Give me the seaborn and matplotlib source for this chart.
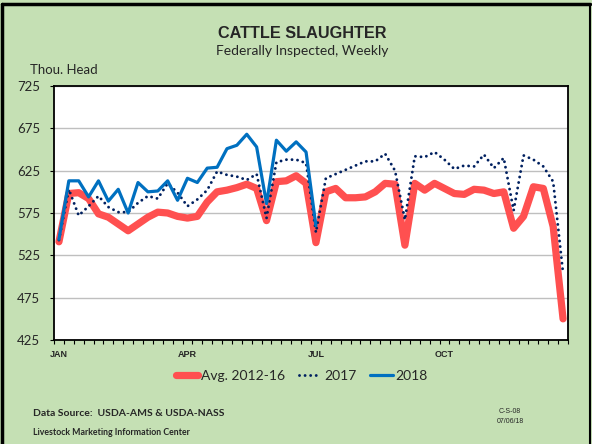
import matplotlib
matplotlib.use("Agg")
import matplotlib.pyplot as plt
import matplotlib.lines as mlines
import numpy as np
import pandas as pd
import seaborn as sns

# weekly federally inspected cattle slaughter, thou. head
weeks = list(range(1, 53))
avg_2012_16 = [541, 598, 599, 592, 574, 570, 562, 554, 562, 570,
               576, 575, 571, 569, 571, 588, 600, 602, 605, 609,
               604, 566, 612, 613, 619, 610, 540, 600, 604, 593,
               593, 594, 600, 610, 609, 537, 610, 602, 610, 604,
               598, 597, 603, 602, 598, 600, 557, 571, 606, 604,
               559, 450]
y2017 = [543, 603, 572, 583, 595, 582, 576, 576, 587, 595,
         592, 610, 599, 583, 591, 602, 624, 620, 618, 614,
         621, 569, 635, 638, 638, 634, 552, 616, 621, 626,
         631, 636, 636, 645, 625, 567, 642, 641, 647, 638,
         627, 631, 630, 644, 628, 640, 578, 643, 638, 630,
         612, 504]
y2018 = [544, 613, 613, 594, 613, 589, 603, 575, 611, 600,
         601, 613, 590, 616, 611, 628, 629, 651, 655, 668,
         653, 586, 661, 648, 659, 647, 560]

month_labels = ["JAN", "APR", "JUL", "OCT"]
month_weeks = [1, 14, 27, 40]
y_ticks = [425, 475, 525, 575, 625, 675, 725]

bg = "#C5E0B4"
red = "#FF5050"
navy = "#002060"
blue = "#0070C0"

sns.set_theme(style="white")
plt.rcParams["font.family"] = ["Lato", "DejaVu Sans"]

df = pd.DataFrame({"week": weeks, "avg": avg_2012_16, "y2017": y2017})
df18 = pd.DataFrame({"week": weeks[:len(y2018)], "y2018": y2018})

dot_style = (0, (0.01, 1.9))

fig = plt.figure(figsize=(5.92, 4.44), dpi=100, facecolor=bg)
ax = fig.add_axes([54 / 592, 1 - 340 / 444, 514 / 592, 254 / 444])
ax.set_facecolor("white")

sns.lineplot(data=df, x="week", y="avg", ax=ax, color=red, lw=5.2,
             solid_capstyle="round", solid_joinstyle="round", zorder=3)
sns.lineplot(data=df, x="week", y="y2017", ax=ax, color=navy, lw=2.1,
             linestyle=dot_style, dash_capstyle="round", zorder=4)
sns.lineplot(data=df18, x="week", y="y2018", ax=ax, color=blue, lw=2.3,
             solid_joinstyle="round", zorder=5)

ax.set_xlim(0.5, 52.5)
ax.set_ylim(425, 725)
ax.set_yticks(y_ticks)
ax.set_yticklabels([str(v) for v in y_ticks], fontsize=9.5)
ax.set_xticks(month_weeks)
ax.set_xticklabels(month_labels, fontsize=6.5, fontweight="bold",
                   family=["Liberation Sans"])
ax.set_xticks(np.arange(0.5, 53, 1), minor=True)
ax.tick_params(axis="x", which="major", length=0, pad=7)
ax.tick_params(axis="x", which="minor", length=3, width=0.8, color="black",
               direction="out", bottom=True)
ax.tick_params(axis="y", length=3, width=0.8, color="black", pad=7, left=True)
ax.grid(axis="y", color="#BFBFBF", lw=1)
ax.set_xlabel("")
ax.set_ylabel("")
for s in ax.spines.values():
    s.set_color("black")
    s.set_linewidth(1.3)

fig.text(0.51, 1 - 33 / 444, "CATTLE SLAUGHTER", ha="center", va="center",
         fontsize=11.7, fontweight="bold", family=["Liberation Sans"])
fig.text(0.51, 1 - 51 / 444, "Federally Inspected, Weekly", ha="center",
         va="center", fontsize=10)
fig.text(30 / 592, 1 - 70 / 444, "Thou. Head", ha="left", va="center",
         fontsize=9.5)

handles = [
    mlines.Line2D([], [], color=red, lw=5.2, solid_capstyle="round"),
    mlines.Line2D([], [], color=navy, lw=2.1, linestyle=dot_style,
                  dash_capstyle="round"),
    mlines.Line2D([], [], color=blue, lw=2.3),
]
fig.legend(handles, ["Avg. 2012-16", "2017", "2018"], loc="center",
           bbox_to_anchor=(0.51, 1 - 376 / 444), ncol=3, frameon=False,
           fontsize=10, handlelength=1.6, handletextpad=0.2,
           columnspacing=1.0)

fig.text(33 / 592, 1 - 413 / 444, "Data Source:  USDA-AMS & USDA-NASS",
         ha="left", va="center", fontsize=7.5, fontweight="bold")
fig.text(33 / 592, 1 - 432 / 444, "Livestock Marketing Information Center",
         ha="left", va="center", fontsize=6.3, fontweight="bold")
fig.text(510 / 592, 1 - 411 / 444, "C-S-08", ha="center", va="center",
         fontsize=5, family=["Liberation Sans"])
fig.text(510 / 592, 1 - 421 / 444, "07/06/18", ha="center", va="center",
         fontsize=5, family=["Liberation Sans"])

# black frame around the chart
fig.add_artist(mlines.Line2D([0.004, 0.004], [0, 0.992], color="black",
                             lw=2.5, transform=fig.transFigure))
fig.add_artist(mlines.Line2D([0.004, 0.996], [0.992, 0.992], color="black",
                             lw=2.5, transform=fig.transFigure))
fig.add_artist(mlines.Line2D([0.996, 0.996], [0, 0.992], color="black",
                             lw=1.5, transform=fig.transFigure))

fig.savefig("out.png", dpi=100, facecolor=bg)
